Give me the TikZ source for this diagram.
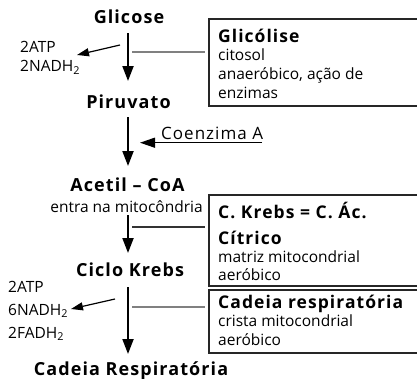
\documentclass[tikz,border=0pt]{standalone}
\usepackage{fontspec}
\setmainfont{Open Sans}
\newfontfamily\headfont[LetterSpace=6]{Open Sans}
\usetikzlibrary{arrows.meta}
\begin{document}
\begin{tikzpicture}[x=1pt,y=-1pt,
  head/.style={font=\fontsize{18}{21}\headfont\bfseries, inner sep=0pt, anchor=base},
  boxhead/.style={font=\fontsize{17.5}{21}\headfont\bfseries, inner sep=0pt, anchor=base west},
  small/.style={font=\fontsize{15.5}{18}\selectfont, inner sep=0pt, anchor=base west},
  mainarrow/.style={line width=2pt, -{Triangle[length=15pt,width=11pt]}},
  sidearrow/.style={line width=1.2pt, -{Triangle[length=12pt,width=8pt]}},
  link/.style={line width=1.1pt, gray},
  infobox/.style={draw=black!85, line width=1.3pt}]
\useasboundingbox (0,0) rectangle (417,378);
% main chain
\node[head] (glicose) at (129,23.5) {Glicose};
\node[head] (piruvato) at (128.5,108) {Piruvato};
\node[head] (acetil) at (127.5,191) {Acetil – CoA};
\node[small, anchor=base] (entra) at (126.5,212) {entra na mitocôndria};
\node[head] (krebs) at (130,276) {Ciclo Krebs};
\node[head] (cadeia) at (131,375) {Cadeia Respiratória};
% coordinates for arrows
\coordinate (a1s) at (128,33); \coordinate (a1e) at (128,81);
\coordinate (a2s) at (128,117); \coordinate (a2e) at (128,166);
\coordinate (a3s) at (128,215); \coordinate (a3e) at (128,253);
\coordinate (a4s) at (128,287); \coordinate (a4e) at (128,354);
\draw[mainarrow] (a1s) -- (a1e);
\draw[mainarrow] (a2s) -- (a2e);
\draw[mainarrow] (a3s) -- (a3e);
\draw[mainarrow] (a4s) -- (a4e);
% side products
\node[small] (atp1) at (20,52) {2ATP};
\node[small] (nadh1) at (20,71.7) {2NADH\textsubscript{2}};
\coordinate (s1s) at (120,45); \coordinate (s1e) at (77,55);
\draw[sidearrow] (s1s) -- (s1e);
\node[small] (atp2) at (8,292.5) {2ATP};
\node[small] (nadh2) at (8,315) {6NADH\textsubscript{2}};
\node[small] (fadh2) at (8,338) {2FADH\textsubscript{2}};
\coordinate (s2s) at (115,299) ; \coordinate (s2e) at (71,309);
\draw[sidearrow] (s2s) -- (s2e);
% coenzima A
\node[small, font=\fontsize{17}{20}\headfont] (coa) at (161,139.3) {Coenzima A};
\coordinate (coaend) at (262,142.7); \coordinate (coatip) at (140,142.7);
\draw[line width=1.3pt, -{Triangle[length=15pt,width=10pt]}] (coaend) -- (coatip);
% info boxes
\draw[infobox] (209,19) rectangle (425,106);
\node[boxhead] (glicolise) at (218,42.5) {Glicólise};
\node[small] (g1) at (218,60.7) {citosol};
\node[small] (g2) at (218,79.5) {anaeróbico, ação de};
\node[small] (g3) at (218,98.5) {enzimas};
\draw[infobox] (209,195) rectangle (425,286);
\node[boxhead] (ck) at (218,218) {C. Krebs = C. Ác.};
\node[boxhead] (cit) at (218,244) {Cítrico};
\node[small] (k1) at (218,262) {matriz mitocondrial};
\node[small] (k2) at (218,280.5) {aeróbico};
\draw[infobox] (209,290) rectangle (425,353);
\node[boxhead] (cr) at (218,308) {Cadeia respiratória};
\node[small] (c1) at (218,326) {crista mitocondrial};
\node[small] (c2) at (218,345) {aeróbico};
% link lines
\coordinate (l1a) at (132,52); \coordinate (l1b) at (205,52);
\coordinate (l2a) at (132,227); \coordinate (l2b) at (205,227);
\coordinate (l3a) at (132,307); \coordinate (l3b) at (205,307);
\draw[link] (l1a) -- (l1b);
\draw[link, black!80] (l2a) -- (l2b);
\draw[link] (l3a) -- (l3b);
\end{tikzpicture}
\end{document}
